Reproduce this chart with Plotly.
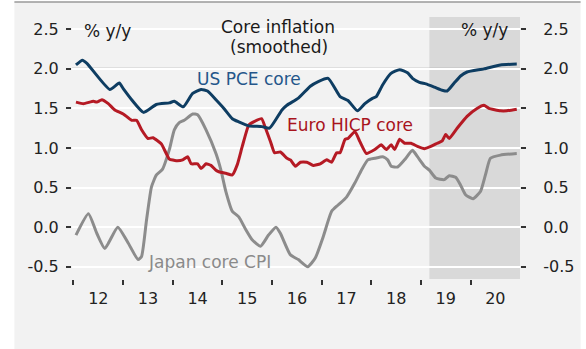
import pandas as pd
import plotly.graph_objects as go

# Smoothed core inflation, % y/y, sampled at decimal-year positions
us_t = [2012.05, 2012.18, 2012.27, 2012.73, 2012.92, 2013.00, 2013.17, 2013.41, 2013.67, 2013.93,
        2014.03, 2014.21, 2014.40, 2014.57, 2014.70, 2014.87, 2015.03, 2015.20, 2015.33, 2015.53,
        2015.80, 2015.95, 2016.20, 2016.30, 2016.53, 2016.77, 2016.93, 2017.13, 2017.37, 2017.53,
        2017.72, 2017.87, 2018.03, 2018.10, 2018.23, 2018.39, 2018.57, 2018.73, 2018.83, 2018.97,
        2019.10, 2019.27, 2019.43, 2019.53, 2019.67, 2019.80, 2019.93, 2020.27, 2020.60, 2020.93]
us_v = [2.05, 2.11, 2.07, 1.74, 1.82, 1.75, 1.61, 1.45, 1.55, 1.57,
        1.59, 1.52, 1.69, 1.74, 1.72, 1.61, 1.50, 1.37, 1.33, 1.28,
        1.27, 1.25, 1.48, 1.54, 1.63, 1.78, 1.84, 1.88, 1.65, 1.60,
        1.47, 1.56, 1.63, 1.65, 1.80, 1.94, 1.99, 1.95, 1.88, 1.83,
        1.81, 1.77, 1.73, 1.72, 1.82, 1.91, 1.96, 2.00, 2.05, 2.06]

euro_t = [2012.05, 2012.20, 2012.40, 2012.47, 2012.57, 2012.70, 2012.83, 2013.00, 2013.17, 2013.27,
          2013.37, 2013.50, 2013.60, 2013.77, 2013.93, 2014.07, 2014.20, 2014.30, 2014.37, 2014.50,
          2014.57, 2014.67, 2014.77, 2014.87, 2014.93, 2015.07, 2015.20, 2015.30, 2015.40, 2015.53,
          2015.63, 2015.79, 2015.87, 2015.97, 2016.05, 2016.17, 2016.30, 2016.37, 2016.47, 2016.57,
          2016.70, 2016.83, 2016.97, 2017.10, 2017.20, 2017.30, 2017.37, 2017.47, 2017.53, 2017.67,
          2017.77, 2017.90, 2018.07, 2018.20, 2018.30, 2018.40, 2018.47, 2018.57, 2018.67, 2018.80,
          2018.93, 2019.07, 2019.20, 2019.33, 2019.43, 2019.50, 2019.57, 2019.73, 2019.93, 2020.13,
          2020.27, 2020.37, 2020.60, 2020.73, 2020.93]
euro_v = [1.58, 1.56, 1.59, 1.58, 1.61, 1.56, 1.48, 1.43, 1.35, 1.35,
          1.23, 1.12, 1.13, 1.05, 0.86, 0.84, 0.85, 0.89, 0.80, 0.80,
          0.74, 0.80, 0.78, 0.72, 0.70, 0.68, 0.66, 0.79, 1.02, 1.29,
          1.33, 1.37, 1.25, 1.08, 0.94, 0.95, 0.87, 0.85, 0.77, 0.82,
          0.82, 0.78, 0.80, 0.85, 0.82, 0.94, 0.94, 1.11, 1.12, 1.21,
          1.08, 0.93, 0.98, 1.04, 0.98, 1.04, 0.98, 1.11, 1.06, 1.06,
          1.02, 0.99, 1.02, 1.06, 1.09, 1.17, 1.12, 1.25, 1.40, 1.50,
          1.54, 1.50, 1.47, 1.47, 1.49]

japan_t = [2012.05, 2012.30, 2012.47, 2012.63, 2012.89, 2013.10, 2013.30, 2013.37, 2013.47, 2013.57,
           2013.67, 2013.79, 2013.93, 2014.03, 2014.13, 2014.23, 2014.40, 2014.50, 2014.67, 2014.87,
           2014.97, 2015.07, 2015.20, 2015.33, 2015.47, 2015.60, 2015.77, 2015.93, 2016.08, 2016.17,
           2016.37, 2016.53, 2016.72, 2016.87, 2017.03, 2017.20, 2017.33, 2017.50, 2017.67, 2017.80,
           2017.93, 2018.07, 2018.23, 2018.33, 2018.40, 2018.53, 2018.67, 2018.83, 2018.93, 2019.07,
           2019.17, 2019.30, 2019.47, 2019.57, 2019.70, 2019.80, 2019.90, 2020.05, 2020.20, 2020.30,
           2020.40, 2020.60, 2020.93]
japan_v = [-0.10, 0.17, -0.08, -0.27, 0.00, -0.20, -0.41, -0.37, 0.09, 0.51,
           0.66, 0.73, 0.98, 1.23, 1.32, 1.35, 1.43, 1.42, 1.23, 0.93,
           0.72, 0.45, 0.20, 0.13, -0.03, -0.16, -0.24, -0.10, 0.00, -0.08,
           -0.35, -0.41, -0.50, -0.39, -0.12, 0.20, 0.28, 0.38, 0.56, 0.72,
           0.85, 0.87, 0.89, 0.85, 0.77, 0.76, 0.85, 0.97, 0.89, 0.77,
           0.72, 0.62, 0.60, 0.65, 0.63, 0.53, 0.41, 0.36, 0.45, 0.66,
           0.87, 0.91, 0.93]

y_ticks = [-0.5, 0.0, 0.5, 1.0, 1.5, 2.0, 2.5]
y_tick_text = ["-0.5", "0.0", "0.5", "1.0", "1.5", "2.0", "2.5"]

forecast_start = 2019.17
x_start, x_end = 2011.97, 2020.995


def to_date(t):
    year = int(t)
    start = pd.Timestamp(year=year, month=1, day=1)
    end = pd.Timestamp(year=year + 1, month=1, day=1)
    return start + (end - start) * (t - year)


def dates(ts):
    return [to_date(t) for t in ts]


FONT = "DejaVu Sans"
US_COL = "#0e3d62"
EU_COL = "#b51a24"
JP_COL = "#8c8c8c"

fig = go.Figure()
fig.add_trace(go.Scatter(x=dates(japan_t), y=japan_v, mode="lines", name="Japan core CPI",
                         line=dict(color=JP_COL, width=3, shape="spline", smoothing=0.5)))
fig.add_trace(go.Scatter(x=dates(euro_t), y=euro_v, mode="lines", name="Euro HICP core",
                         line=dict(color=EU_COL, width=3, shape="spline", smoothing=0.4)))
fig.add_trace(go.Scatter(x=dates(us_t), y=us_v, mode="lines", name="US PCE core",
                         line=dict(color=US_COL, width=3, shape="spline", smoothing=0.5)))
# carrier for the right-hand axis
fig.add_trace(go.Scatter(x=dates([x_start]), y=[1.0], yaxis="y2", mode="lines",
                         showlegend=False, hoverinfo="skip", line=dict(width=0)))

W, H = 586, 349
ML, MR, MT, MB = 72, 63, 17, 70
PW, PH = W - ML - MR, H - MT - MB


def px(x):
    return (x - ML) / PW


def py(y):
    return (H - MB - y) / PH


y_range = [-0.655, 2.655]
axis_font = dict(family=FONT, size=16, color="#222222")

fig.update_layout(
    width=W, height=H,
    margin=dict(l=ML, r=MR, t=MT, b=MB),
    paper_bgcolor="white",
    plot_bgcolor="rgba(0,0,0,0)",
    showlegend=False,
    font=dict(family=FONT, size=16, color="#222222"),
    xaxis=dict(
        type="date",
        range=[to_date(x_start), to_date(x_end)],
        tick0="2012-01-01", dtick="M12", tickformat="%y",
        ticklabelmode="period",
        ticks="outside", ticklen=5, tickwidth=1.5, tickcolor="#333333",
        showgrid=False, zeroline=False, showline=False,
        tickfont=axis_font,
    ),
    yaxis=dict(
        range=y_range,
        tickmode="array", tickvals=y_ticks, ticktext=y_tick_text,
        ticks="outside", ticklen=5, tickwidth=1.5, tickcolor="#333333",
        ticklabelstandoff=4,
        showgrid=True, gridcolor="white", gridwidth=1.5,
        zeroline=False, showline=False,
        tickfont=axis_font,
    ),
    yaxis2=dict(
        range=y_range, overlaying="y", side="right",
        tickmode="array", tickvals=y_ticks, ticktext=y_tick_text,
        ticks="outside", ticklen=5, tickwidth=1.5, tickcolor="#333333",
        ticklabelstandoff=14,
        showgrid=False, zeroline=False, showline=False,
        tickfont=axis_font,
    ),
)

# chart panel and its top rule
fig.add_shape(type="rect", xref="paper", yref="paper",
              x0=px(14), x1=px(584), y0=py(349), y1=py(2),
              fillcolor="#f2f2f2", line=dict(width=0), layer="below")
fig.add_shape(type="line", xref="paper", yref="paper",
              x0=px(14), x1=px(584), y0=py(2), y1=py(2),
              line=dict(color="#9a9a9a", width=1.5), layer="below")
# forecast period
fig.add_shape(type="rect", xref="x", yref="paper",
              x0=to_date(forecast_start), x1=to_date(x_end), y0=0, y1=1,
              fillcolor="#d9d9d9", line=dict(width=0), layer="below")
# 2% reference
fig.add_shape(type="line", xref="paper", yref="y", x0=0, x1=1, y0=2.0, y1=2.0,
              line=dict(color="#a6a6a6", width=2), layer="between")

ann = dict(showarrow=False, xref="paper", yref="paper", font=dict(family=FONT, size=17))
fig.add_annotation(text="% y/y", x=px(82), y=py(31), xanchor="left", yanchor="middle",
                   **{**ann, "font": dict(family=FONT, size=17, color="#1a1a1a")})
fig.add_annotation(text="% y/y", x=px(513), y=py(30), xanchor="right", yanchor="middle",
                   **{**ann, "font": dict(family=FONT, size=17, color="#1a1a1a")})
fig.add_annotation(text="Core inflation", x=px(279), y=py(27), xanchor="center", yanchor="middle",
                   **{**ann, "font": dict(family=FONT, size=17, color="#1a1a1a")})
fig.add_annotation(text="(smoothed)", x=px(280), y=py(47), xanchor="center", yanchor="middle",
                   **{**ann, "font": dict(family=FONT, size=17, color="#1a1a1a")})
fig.add_annotation(text="US PCE core", x=px(196), y=py(79), xanchor="left", yanchor="middle",
                   **{**ann, "font": dict(family=FONT, size=17, color="#24568a")})
fig.add_annotation(text="Euro HICP core", x=px(286), y=py(125), xanchor="left", yanchor="middle",
                   **{**ann, "font": dict(family=FONT, size=17, color="#a8141d")})
fig.add_annotation(text="Japan core CPI", x=px(146), y=py(262), xanchor="left", yanchor="middle",
                   **{**ann, "font": dict(family=FONT, size=17, color="#8a8a8a")})

fig.write_html("out.html")
